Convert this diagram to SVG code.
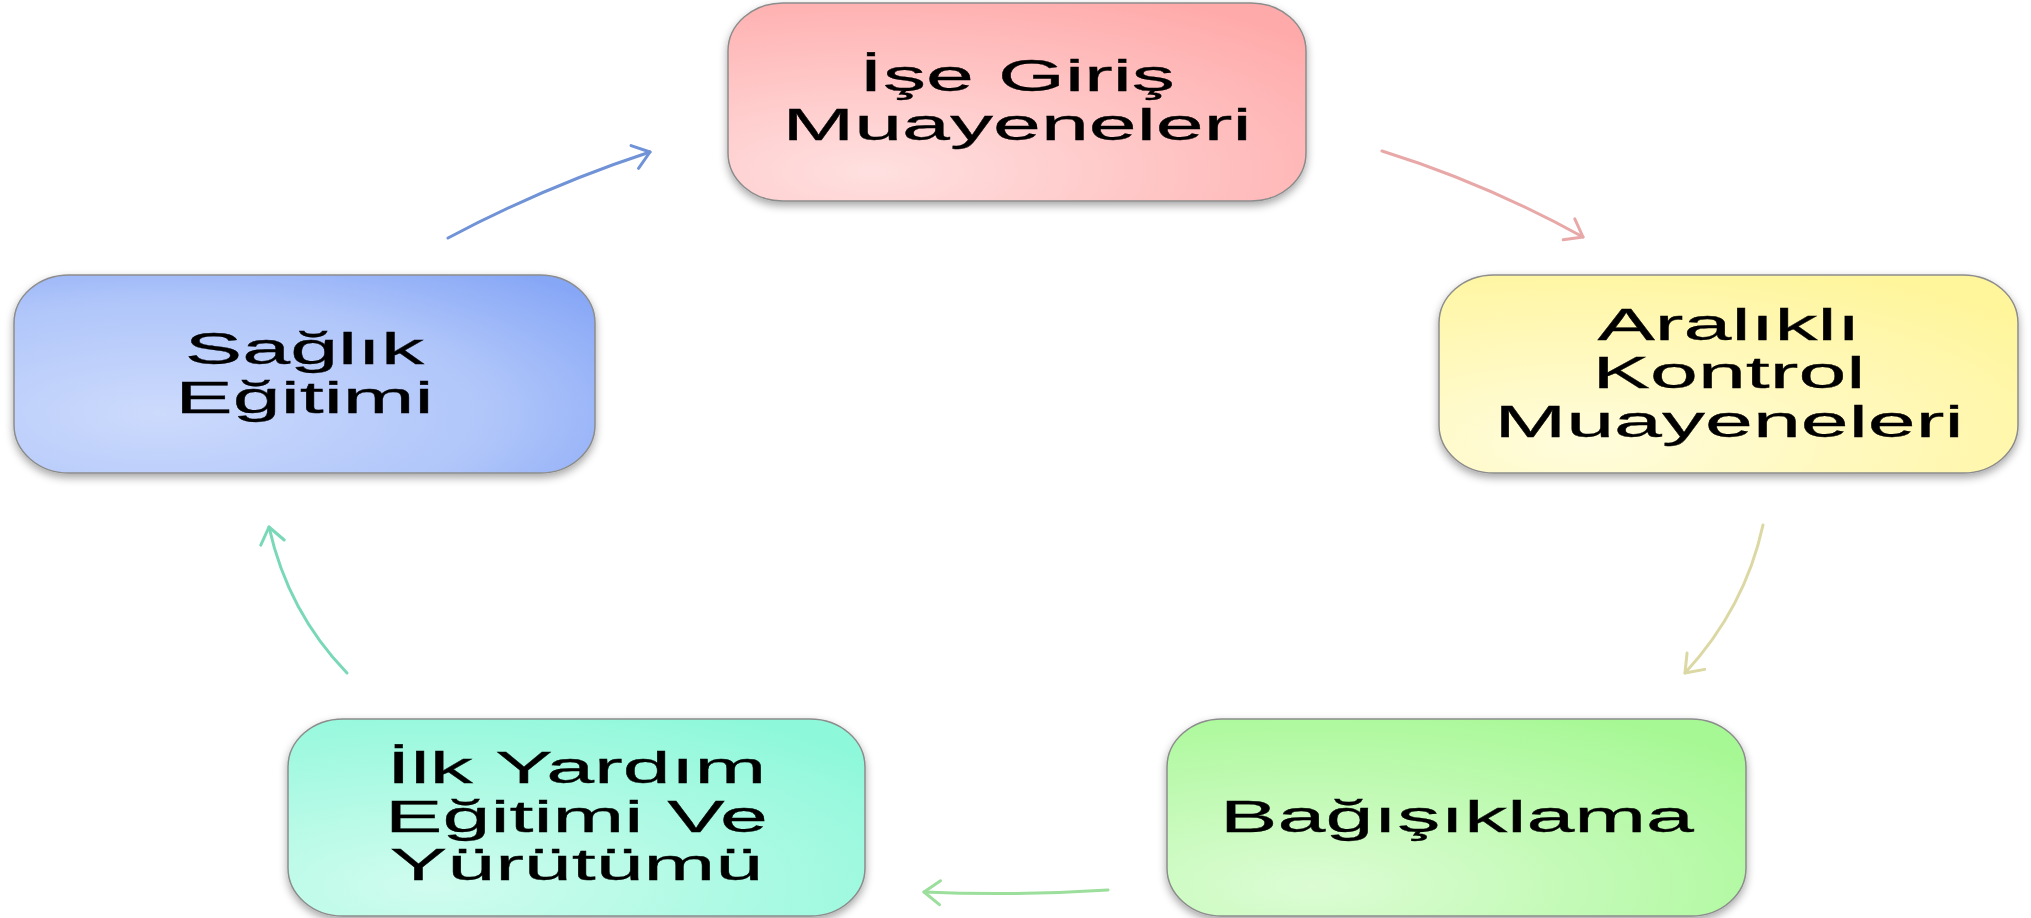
<svg xmlns="http://www.w3.org/2000/svg" width="2031" height="918" viewBox="0 0 2031 918">
  <style>
    .box { stroke: #8c8c8c; stroke-width: 1.5; filter: url(#shadow); }
    .lbl { font-family: "Liberation Sans", Arial, sans-serif; font-size: 43.5px; fill: #000; stroke: #000; stroke-width: 0.3; text-anchor: middle; }
    .conn { fill: none; stroke-width: 3; stroke-linecap: round; }
  </style>
  <defs>
    <filter id="shadow" x="-10%" y="-10%" width="120%" height="130%">
      <feDropShadow dx="0" dy="4" stdDeviation="4" flood-color="#000" flood-opacity="0.35"/>
    </filter>
    <radialGradient id="gPink" cx="0.25" cy="0.85" r="1.0">
      <stop offset="0" stop-color="#ffe0e0"/>
      <stop offset="1" stop-color="#ffaaaa"/>
    </radialGradient>
    <radialGradient id="gYellow" cx="0.25" cy="0.85" r="1.0">
      <stop offset="0" stop-color="#fffcdc"/>
      <stop offset="1" stop-color="#fff59a"/>
    </radialGradient>
    <radialGradient id="gGreen" cx="0.25" cy="0.85" r="1.0">
      <stop offset="0" stop-color="#dcfcd4"/>
      <stop offset="1" stop-color="#a6f894"/>
    </radialGradient>
    <radialGradient id="gTeal" cx="0.25" cy="0.85" r="1.0">
      <stop offset="0" stop-color="#d0fcee"/>
      <stop offset="1" stop-color="#8ef8da"/>
    </radialGradient>
    <radialGradient id="gBlue" cx="0.25" cy="0.7" r="0.95">
      <stop offset="0" stop-color="#ccdafc"/>
      <stop offset="0.6" stop-color="#b0c6fa"/>
      <stop offset="1" stop-color="#86a6f6"/>
    </radialGradient>
    <marker id="aBlue" markerUnits="userSpaceOnUse" markerWidth="40" markerHeight="40" viewBox="-20 -20 40 40" refX="0" refY="0" orient="auto">
      <path d="M -16 -12 L 0 0 L -16 12" fill="none" stroke="#7092d6" stroke-width="3" stroke-linecap="round" stroke-linejoin="round"/>
    </marker>
    <marker id="aPink" markerUnits="userSpaceOnUse" markerWidth="40" markerHeight="40" viewBox="-20 -20 40 40" refX="0" refY="0" orient="auto">
      <path d="M -16 -12 L 0 0 L -16 12" fill="none" stroke="#e8a8a8" stroke-width="3" stroke-linecap="round" stroke-linejoin="round"/>
    </marker>
    <marker id="aYellow" markerUnits="userSpaceOnUse" markerWidth="40" markerHeight="40" viewBox="-20 -20 40 40" refX="0" refY="0" orient="auto">
      <path d="M -16 -12 L 0 0 L -16 12" fill="none" stroke="#dcd8a4" stroke-width="3" stroke-linecap="round" stroke-linejoin="round"/>
    </marker>
    <marker id="aGreen" markerUnits="userSpaceOnUse" markerWidth="40" markerHeight="40" viewBox="-20 -20 40 40" refX="0" refY="0" orient="auto">
      <path d="M -16 -12 L 0 0 L -16 12" fill="none" stroke="#9cde9c" stroke-width="3" stroke-linecap="round" stroke-linejoin="round"/>
    </marker>
    <marker id="aTeal" markerUnits="userSpaceOnUse" markerWidth="40" markerHeight="40" viewBox="-20 -20 40 40" refX="0" refY="0" orient="auto">
      <path d="M -16 -12 L 0 0 L -16 12" fill="none" stroke="#78d8b8" stroke-width="3" stroke-linecap="round" stroke-linejoin="round"/>
    </marker>
  </defs>

  <rect width="2031" height="918" fill="#ffffff"/>

  <g id="connectors">
    <path class="conn" d="M 1382 151 Q 1485 183 1583 237" stroke="#e8a8a8" marker-end="url(#aPink)"/>
    <path class="conn" d="M 1763 525 Q 1745 608 1685 673" stroke="#dcd8a4" marker-end="url(#aYellow)"/>
    <path class="conn" d="M 1108 890 Q 1015 896 924 892" stroke="#9cde9c" marker-end="url(#aGreen)"/>
    <path class="conn" d="M 347 673 Q 288 612 269 527" stroke="#78d8b8" marker-end="url(#aTeal)"/>
    <path class="conn" d="M 448 238 Q 546 186 650 152" stroke="#7092d6" marker-end="url(#aBlue)"/>
  </g>

  <g id="node-ise-giris">
    <rect class="box" x="728" y="3" width="578" height="198" rx="55" ry="48" fill="url(#gPink)"/>
    <g transform="translate(1017 0) scale(1.98 1)">
      <text class="lbl" x="0" y="91">İşe Giriş</text>
      <text class="lbl" x="0" y="140">Muayeneleri</text>
    </g>
  </g>

  <g id="node-aralikli">
    <rect class="box" x="1439" y="275" width="579" height="198" rx="55" ry="48" fill="url(#gYellow)"/>
    <g transform="translate(1729 0) scale(1.98 1)">
      <text class="lbl" x="0" y="340">Aralıklı</text>
      <text class="lbl" x="0" y="388.5">Kontrol</text>
      <text class="lbl" x="0" y="437">Muayeneleri</text>
    </g>
  </g>

  <g id="node-bagisiklama">
    <rect class="box" x="1167" y="719" width="579" height="197" rx="55" ry="48" fill="url(#gGreen)"/>
    <g transform="translate(1457 0) scale(1.98 1)">
      <text class="lbl" x="0" y="832">Bağışıklama</text>
    </g>
  </g>

  <g id="node-ilk-yardim">
    <rect class="box" x="288" y="719" width="577" height="197" rx="55" ry="48" fill="url(#gTeal)"/>
    <g transform="translate(576.5 0) scale(1.98 1)">
      <text class="lbl" x="0" y="783">İlk Yardım</text>
      <text class="lbl" x="0" y="832">Eğitimi Ve</text>
      <text class="lbl" x="0" y="880">Yürütümü</text>
    </g>
  </g>

  <g id="node-saglik">
    <rect class="box" x="14" y="275" width="581" height="198" rx="55" ry="48" fill="url(#gBlue)"/>
    <g transform="translate(304.5 0) scale(1.98 1)">
      <text class="lbl" x="0" y="364">Sağlık</text>
      <text class="lbl" x="0" y="413">Eğitimi</text>
    </g>
  </g>
</svg>
